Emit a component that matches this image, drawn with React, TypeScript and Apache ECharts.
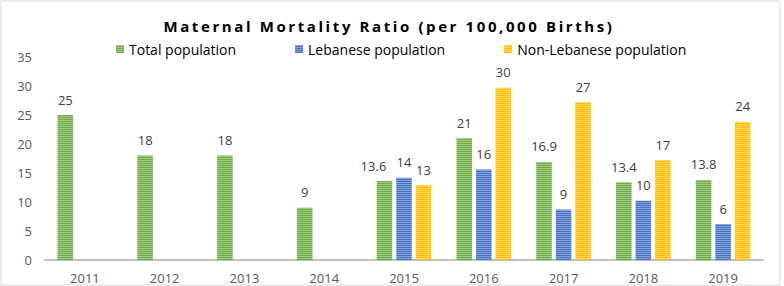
import React, { useEffect, useRef } from "react";
import * as echarts from "echarts";

const years = ["2011", "2012", "2013", "2014", "2015", "2016", "2017", "2018", "2019"];
const totalPopulation = [25, 18, 18, 9, 13.6, 21, 16.9, 13.4, 13.8];
const lebanesePopulation = [null, null, null, null, 14.2, 15.6, 8.7, 10.2, 6.2];
const nonLebanesePopulation = [null, null, null, null, 12.9, 29.7, 27.2, 17.2, 23.8];
const seriesNames = ["Total population", "Lebanese population", "Non-Lebanese population"];
const seriesColors = ["#70ad47", "#4472c4", "#ffc000"];
const titleText = "Maternal Mortality Ratio (per 100,000 Births)";

const FONT = "'Open Sans', sans-serif";

export default function App() {
  const ref = useRef<HTMLDivElement>(null);
  useEffect(() => {
    if (!ref.current) return;
    const chart = echarts.init(ref.current, null, { renderer: "svg" });
    const decal = {
      symbol: "rect",
      symbolSize: 1,
      dashArrayX: [1, 0],
      dashArrayY: [1, 1],
      color: "rgba(255,255,255,0.35)",
      rotation: 0,
    };
    const mk = (
      name: string,
      data: (number | null)[],
      color: string,
      round: boolean,
      shiftIdx: number = -1
    ) => ({
      name,
      type: "bar",
      data: data.map((v, i) =>
        i === shiftIdx ? { value: v, label: { offset: [-11, 0] } } : v
      ),
      barWidth: 15.5,
      barGap: "26%",
      itemStyle: { color, decal },
      label: {
        show: true,
        position: "top",
        distance: 9,
        color: "#404040",
        fontFamily: FONT,
        fontSize: 13,
        formatter: (p: any) => (round ? String(Math.round(p.value)) : String(p.value)),
      },
    });
    chart.setOption({
      animation: false,
      backgroundColor: "#ffffff",
      title: {
        text: titleText,
        left: 389,
        textAlign: "center",
        top: 18,
        padding: 0,
        textStyle: {
          fontFamily: FONT,
          fontWeight: "bold",
          fontSize: 15,
          color: "#000000",
        },
      },
      legend: {
        left: 116,
        top: 42,
        padding: 0,
        itemWidth: 8,
        itemHeight: 8,
        itemGap: 59,
        icon: "rect",
        textStyle: { fontFamily: FONT, fontSize: 14, color: "#000000" },
        data: seriesNames,
      },
      grid: { left: 45, right: 21, top: 57, bottom: 26 },
      xAxis: {
        type: "category",
        data: years,
        axisTick: { show: false },
        axisLine: { lineStyle: { color: "#bfbfbf", width: 2 } },
        axisLabel: { color: "#595959", fontFamily: FONT, fontSize: 13, margin: 11 },
      },
      yAxis: {
        type: "value",
        min: 0,
        max: 35,
        interval: 5,
        axisLine: { show: false },
        axisTick: { show: false },
        splitLine: { show: false },
        axisLabel: { color: "#595959", fontFamily: FONT, fontSize: 13, margin: 13 },
      },
      graphic: [
        {
          type: "rect",
          shape: { x: 1, y: 1, width: 779, height: 284 },
          style: { fill: "none", stroke: "#d9d9d9", lineWidth: 1 },
          silent: true,
        },
      ],
      series: [
        mk(seriesNames[0], totalPopulation, seriesColors[0], false, 4),
        mk(seriesNames[1], lebanesePopulation, seriesColors[1], true),
        mk(seriesNames[2], nonLebanesePopulation, seriesColors[2], true),
      ],
    });
    const texts = ref.current.querySelectorAll("text");
    texts.forEach((t) => {
      if (t.textContent === titleText) {
        t.setAttribute("letter-spacing", "2.6px");
      }
    });
    return () => chart.dispose();
  }, []);
  return (
    <div
      ref={ref}
      style={{ position: "fixed", left: 0, top: 0, width: 784, height: 286, background: "#fff" }}
    />
  );
}
